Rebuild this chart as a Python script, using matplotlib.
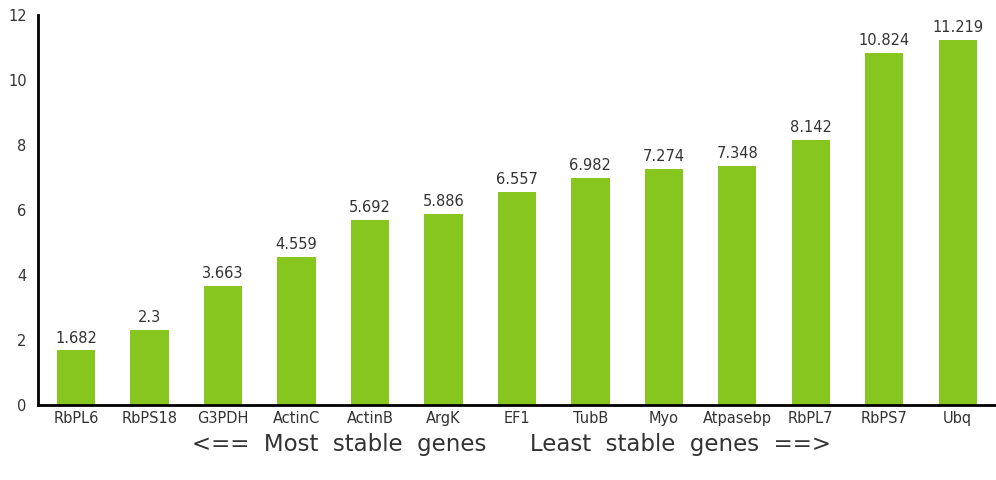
import matplotlib
matplotlib.use("Agg")
import matplotlib.pyplot as plt

genes = ["RbPL6", "RbPS18", "G3PDH", "ActinC", "ActinB", "ArgK", "EF1",
         "TubB", "Myo", "Atpasebp", "RbPL7", "RbPS7", "Ubq"]
values = [1.682, 2.3, 3.663, 4.559, 5.692, 5.886, 6.557,
          6.982, 7.274, 7.348, 8.142, 10.824, 11.219]
labels = ["1.682", "2.3", "3.663", "4.559", "5.692", "5.886", "6.557",
          "6.982", "7.274", "7.348", "8.142", "10.824", "11.219"]
yticks = [0, 2, 4, 6, 8, 10, 12]

fig = plt.figure(figsize=(9.96, 4.8), dpi=100)
ax = fig.add_axes([0.038, 0.156, 0.962, 0.813])

x = list(range(len(genes)))
bars = ax.bar(x, values, width=0.52, color="#86c61f")

# підписи над стовпцями
for b, lab in zip(bars, labels):
    ax.text(b.get_x() + b.get_width() / 2, b.get_height() + 0.15, lab,
            ha="center", va="bottom", fontsize=10.5, color="#333333")

ax.set_xlim(-0.52, 12.52)
ax.set_ylim(0, 12)
ax.set_xticks(x)
ax.set_xticklabels(genes, fontsize=10.5, color="#333333")
ax.set_yticks(yticks)
ax.set_yticklabels([str(t) for t in yticks], fontsize=10.5, color="#333333")
ax.tick_params(length=0, pad=4)
ax.tick_params(axis="y", pad=8)

for s in ["top", "right"]:
    ax.spines[s].set_visible(False)
ax.spines["left"].set_linewidth(2)
ax.spines["bottom"].set_linewidth(2)

fig.text(0.514, 0.074, "<==  Most  stable  genes      Least  stable  genes  ==>",
         ha="center", va="center", fontsize=16.5, color="#333333")

fig.savefig("out.png", dpi=100)
